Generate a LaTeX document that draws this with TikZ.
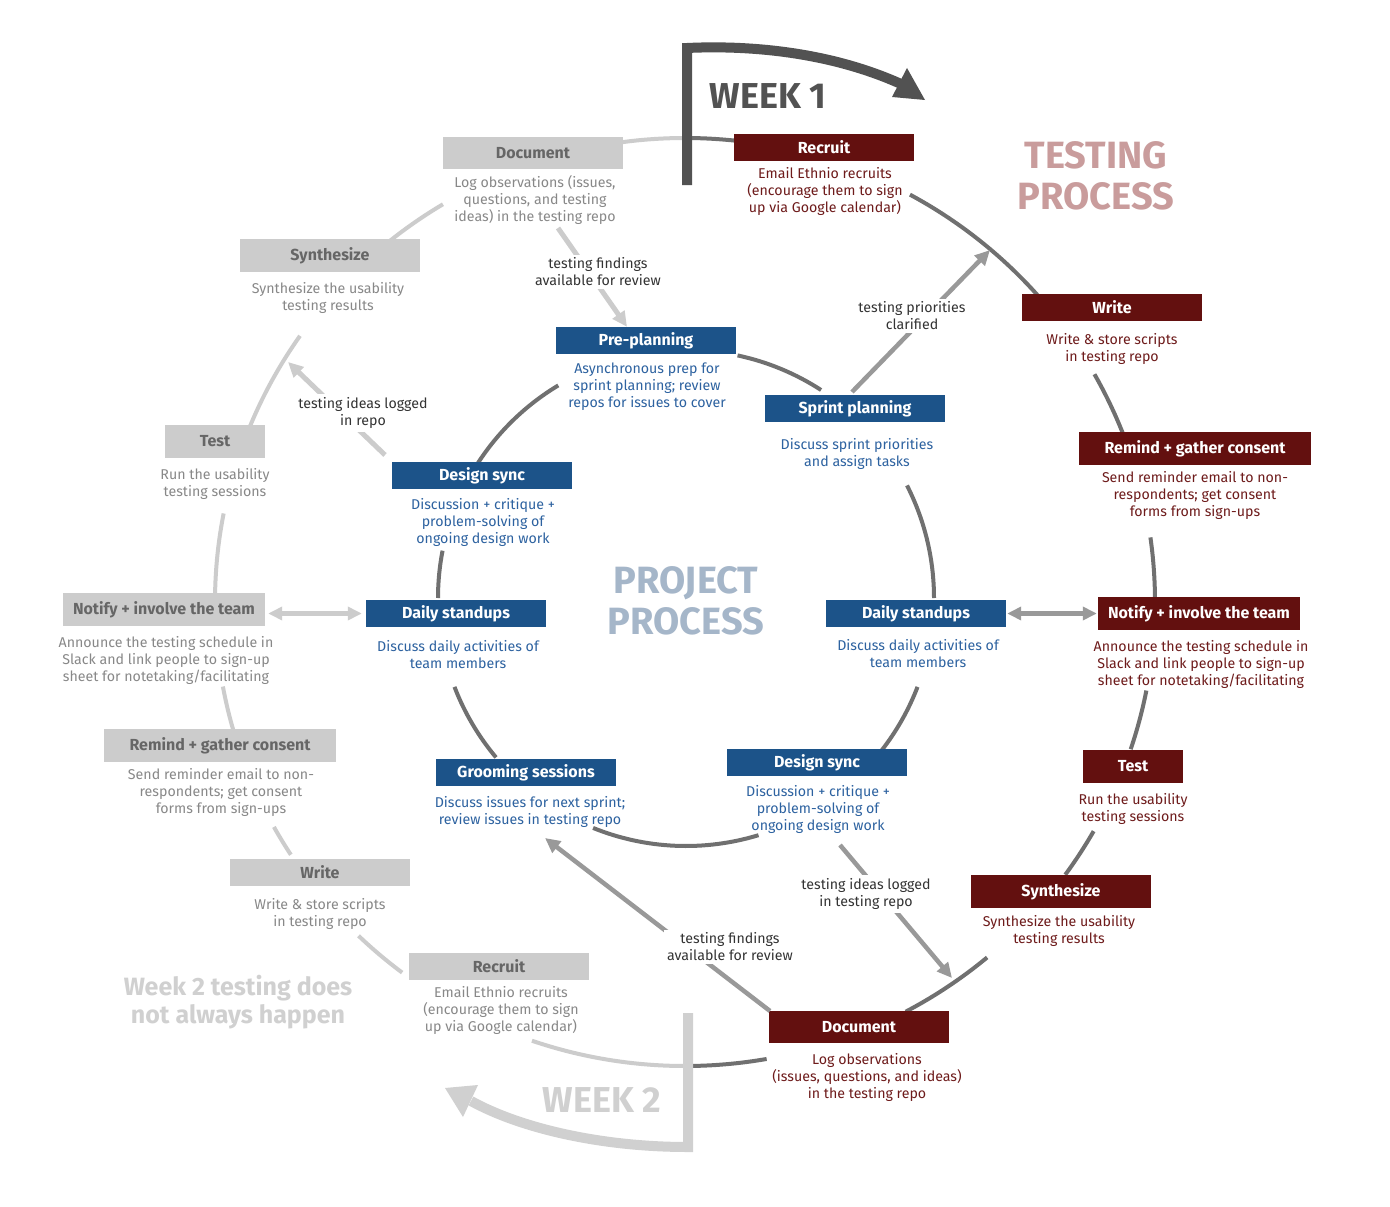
\documentclass[tikz,border=0pt]{standalone}
\usepackage{fontspec}
\setmainfont{Fira Sans}
\usetikzlibrary{arrows.meta}
\definecolor{redbox}{HTML}{63100F}
\definecolor{bluebox}{HTML}{1C5389}
\definecolor{graybox}{HTML}{CCCCCC}
\definecolor{redtxt}{HTML}{6E1B1B}
\definecolor{bluetxt}{HTML}{2D62A0}
\definecolor{graytxt}{HTML}{888888}
\definecolor{graytitle}{HTML}{666666}
\definecolor{ringdark}{HTML}{707070}
\definecolor{ringlight}{HTML}{CCCCCC}
\definecolor{arrmid}{HTML}{999999}
\definecolor{arrlight}{HTML}{CCCCCC}
\definecolor{wkone}{HTML}{525252}
\definecolor{wktwo}{HTML}{D0D0D0}
\definecolor{testhead}{HTML}{C99C9C}
\definecolor{projhead}{HTML}{A5B6C9}
\definecolor{labtxt}{HTML}{333333}
\begin{document}
\begin{tikzpicture}[x=1pt,y=-1pt,
  box/.style={minimum width=180pt, minimum height=27pt, inner sep=0pt, font=\bfseries\fontsize{16}{18}\selectfont},
  rbox/.style={box, fill=redbox, text=white},
  bbox/.style={box, fill=bluebox, text=white},
  gbox/.style={box, fill=graybox, text=graytitle},
  desc/.style={align=center, inner sep=0pt, font=\fontsize{14.2}{17}\selectfont},
  rdesc/.style={desc, text=redtxt},
  bdesc/.style={desc, text=bluetxt},
  gdesc/.style={desc, text=graytxt},
  lab/.style={desc, text=labtxt, fill=white, inner sep=3pt},
  ringd/.style={draw=ringdark, line width=4pt},
  ringl/.style={draw=ringlight, line width=4pt},
  arrm/.style={draw=arrmid, line width=4.5pt, -{Triangle[length=15pt,width=14pt]}},
  arrl/.style={draw=arrlight, line width=5pt, -{Triangle[length=15pt,width=14pt]}},
  dblm/.style={draw=arrmid, line width=4.5pt, {Triangle[length=14pt,width=13pt]}-{Triangle[length=14pt,width=13pt]}},
  dbll/.style={draw=arrlight, line width=5pt, {Triangle[length=14pt,width=13pt]}-{Triangle[length=14pt,width=13pt]}},
  bighead/.style={font=\bfseries\fontsize{38}{41}\selectfont, align=center, inner sep=0pt}
]
\fill[white] (0,0) rectangle (1390,1207);
\useasboundingbox (0,0) rectangle (1390,1207);

% ---------- outer ring ----------
\coordinate (O) at (685,602);
\foreach \a/\b in {270/276, 298.6/318.6, 330.6/338.7, 352/360, 11/18.5, 29.6/36, 50/62, 80/90}
  \draw[ringd] (O) ++(\a:470 and 464) arc[start angle=\a, end angle=\b, x radius=470, y radius=464];
\foreach \a/\b in {90/109, 127/134, 147/151, 164/169.5, 181/191, 202/215, 231/239, 262/270}
  \draw[ringl] (O) ++(\a:470 and 464) arc[start angle=\a, end angle=\b, x radius=470, y radius=464];

% ---------- inner ring ----------
\coordinate (C) at (686,598);
\foreach \a/\b in {282/303, 333/360, 21/38, 73/112, 140/159, 180/191, 213/239}
  \draw[ringd] (C) ++(\a:248) arc[start angle=\a, end angle=\b, radius=248];

% ---------- red testing nodes ----------
\node[rbox] (rRec) at (824,147.5) {Recruit};
\node[rdesc] (rRecD) at (825,191) {Email Ethnio recruits\\(encourage them to sign\\up via Google calendar)};
\node[rbox] (rWri) at (1112,307.5) {Write};
\node[rdesc] (rWriD) at (1112,348.5) {Write \& store scripts\\in testing repo};
\node[rbox, minimum width=232pt, minimum height=33pt] (rRem) at (1195,448.5) {Remind + gather consent};
\node[rdesc] (rRemD) at (1195,495) {Send reminder email to non-\\respondents; get consent\\forms from sign-ups};
\node[rbox, minimum width=202pt, minimum height=33pt] (rNot) at (1199,613.5) {Notify + involve the team};
\node[rdesc] (rNotD) at (1201,664) {Announce the testing schedule in\\Slack and link people to sign-up\\sheet for notetaking/facilitating};
\node[rbox, minimum width=100pt, minimum height=33pt] (rTes) at (1133,766.5) {Test};
\node[rdesc] (rTesD) at (1133,808.5) {Run the usability\\testing sessions};
\node[rbox, minimum height=33pt] (rSyn) at (1061,891.5) {Synthesize};
\node[rdesc] (rSynD) at (1059,930.5) {Synthesize the usability\\testing results};
\node[rbox, minimum height=32pt] (rDoc) at (859,1027) {Document};
\node[rdesc] (rDocD) at (867,1077) {Log observations\\(issues, questions, and ideas)\\in the testing repo};

% ---------- blue project nodes ----------
\node[bbox] (bPre) at (646,340.5) {Pre-planning};
\node[bdesc] (bPreD) at (647,387) {Asynchronous prep for\\sprint planning; review\\repos for issues to cover};
\node[bbox] (bSpr) at (855,408.5) {Sprint planning};
\node[bdesc] (bSprD) at (857,453.5) {Discuss sprint priorities\\and assign tasks};
\node[bbox] (bDsR) at (916,613.5) {Daily standups};
\node[bdesc] (bDsRD) at (918,653.5) {Discuss daily activities of\\team members};
\node[bbox] (bDeR) at (817,762.5) {Design sync};
\node[bdesc] (bDeRD) at (818,809) {Discussion + critique +\\problem-solving of\\ongoing design work};
\node[bbox] (bGro) at (526,772.5) {Grooming sessions};
\node[bdesc] (bGroD) at (530,811.5) {Discuss issues for next sprint;\\review issues in testing repo};
\node[bbox] (bDsL) at (456,613.5) {Daily standups};
\node[bdesc] (bDsLD) at (458,654.5) {Discuss daily activities of\\team members};
\node[bbox] (bDeL) at (482,475.5) {Design sync};
\node[bdesc] (bDeLD) at (483,522) {Discussion + critique +\\problem-solving of\\ongoing design work};

% ---------- gray week-2 nodes ----------
\node[gbox, minimum height=32pt] (gDoc) at (533,153) {Document};
\node[gdesc] (gDocD) at (535,200) {Log observations (issues,\\questions, and testing\\ideas) in the testing repo};
\node[gbox, minimum height=33pt] (gSyn) at (330,255.5) {Synthesize};
\node[gdesc] (gSynD) at (328,297.5) {Synthesize the usability\\testing results};
\node[gbox, minimum width=100pt, minimum height=33pt] (gTes) at (215,441.5) {Test};
\node[gdesc] (gTesD) at (215,483.5) {Run the usability\\testing sessions};
\node[gbox, minimum width=202pt, minimum height=33pt] (gNot) at (164,609.5) {Notify + involve the team};
\node[gdesc] (gNotD) at (166,660) {Announce the testing schedule in\\Slack and link people to sign-up\\sheet for notetaking/facilitating};
\node[gbox, minimum width=232pt, minimum height=33pt] (gRem) at (220,745.5) {Remind + gather consent};
\node[gdesc] (gRemD) at (221,792) {Send reminder email to non-\\respondents; get consent\\forms from sign-ups};
\node[gbox] (gWri) at (320,872.5) {Write};
\node[gdesc] (gWriD) at (320,913.5) {Write \& store scripts\\in testing repo};
\node[gbox] (gRec) at (499,966.5) {Recruit};
\node[gdesc] (gRecD) at (501,1010) {Email Ethnio recruits\\(encourage them to sign\\up via Google calendar)};

% ---------- cross arrows ----------
\coordinate (a1s) at (558,228);
\draw[arrl] (a1s) -- (bPre.north -| 627,0);
\node[lab] (l1) at (598,272) {testing findings\\available for review};

\coordinate (a2s) at (385,455);
\coordinate (a2e) at (288,362);
\draw[arrl] (a2s) -- (a2e);
\node[lab] (l2) at (363,413) {testing ideas logged\\in repo};

\coordinate (a3s) at (852,392);
\coordinate (a3e) at (990,250);
\draw[arrm] (a3s) -- (a3e);
\node[lab] (l3) at (912,316) {testing priorities\\clarified};

\coordinate (a4s) at (840,845);
\coordinate (a4e) at (952,978);
\draw[arrm] (a4s) -- (a4e);
\node[lab] (l4) at (866,894) {testing ideas logged\\in testing repo};

\coordinate (a5s) at (770,1011);
\coordinate (a5e) at (545,838);
\draw[arrm] (a5s) -- (a5e);
\node[lab] (l5) at (730,947) {testing findings\\available for review};

\draw[dbll, shorten <=3pt, shorten >=4pt] (gNot.east |- bDsL.west) -- (bDsL.west);
\draw[dblm, shorten <=1pt, shorten >=1pt] (bDsR.east) -- (rNot.west);

% ---------- week arrows ----------
\draw[wkone, line width=10pt, line join=miter] (687,185) -- (687,48) .. controls (750,45) and (830,52) .. (901,84);
\fill[wkone] (907,68) -- (925,100) -- (892,97) -- cycle;
\node[font=\bfseries\fontsize{36}{40}\selectfont, text=wkone, inner sep=0pt] (wk1) at (768,96) {WEEK 1};

\draw[wktwo, line width=10pt, line join=miter] (688,1013) -- (688,1147) .. controls (600,1147) and (520,1128) .. (471,1101);
\fill[wktwo] (478,1085) -- (445,1088) -- (463,1117) -- cycle;
\node[font=\bfseries\fontsize{36}{40}\selectfont, text=wktwo, inner sep=0pt] (wk2) at (602,1100) {WEEK 2};

% ---------- headings ----------
\node[bighead, text=testhead] (hTest) at (1096,176) {TESTING\\PROCESS};
\node[bighead, text=projhead] (hProj) at (686,601) {PROJECT\\PROCESS};
\node[font=\bfseries\fontsize{25}{28}\selectfont, text=wktwo, align=center, inner sep=0pt] (hWk2) at (238,1002) {Week 2 testing does\\not always happen};
\end{tikzpicture}
\end{document}
